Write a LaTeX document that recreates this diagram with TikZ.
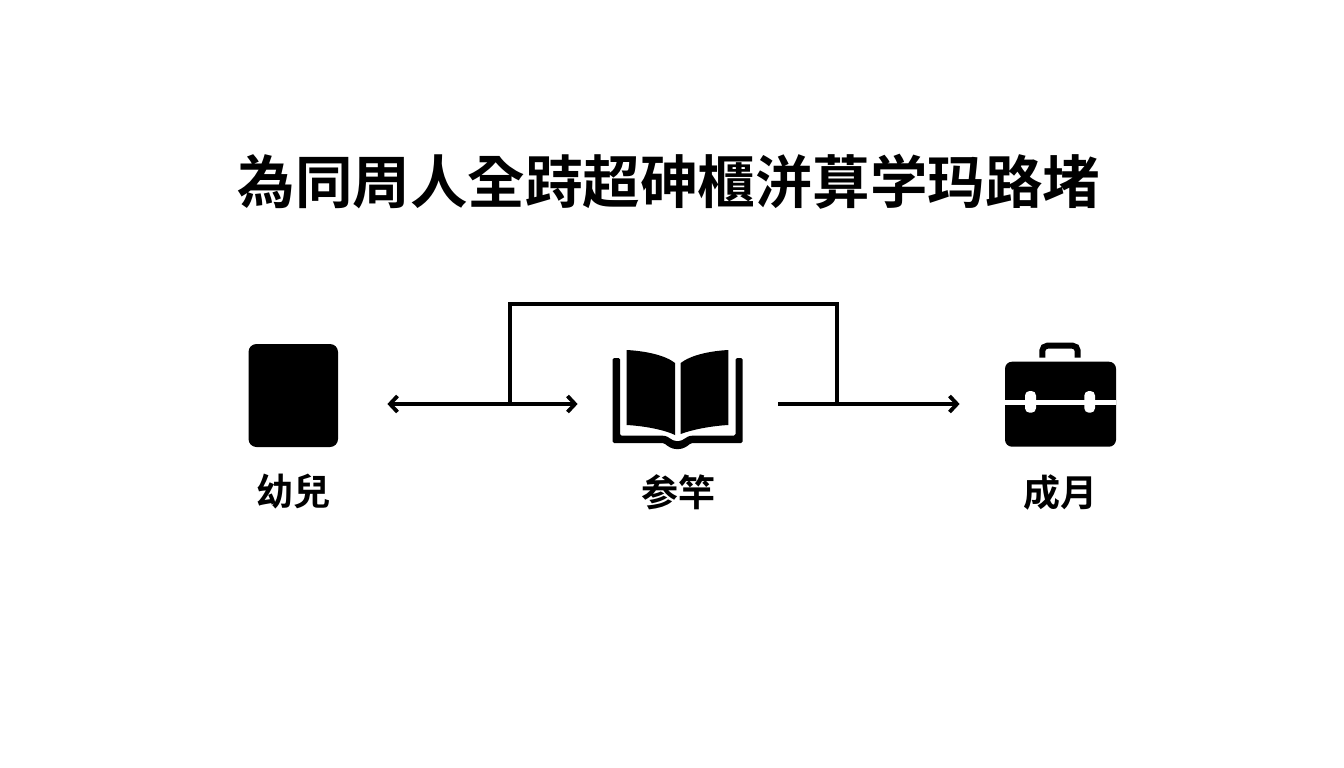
\documentclass[tikz,border=0pt]{standalone}
\usepackage{fontspec}
\usetikzlibrary{arrows.meta}
\newfontfamily\cjktitle[BoldFont=* Bold]{Noto Sans CJK TC}
\tikzset{
  x=1pt,y=-1pt,
  conn/.style={draw=black,line width=3.6pt},
  bar/.style={draw=black,line width=3.2pt},
  barb/.style={black,line width=3.8pt,line cap=butt,line join=miter},
  lbl/.style={font=\cjktitle\bfseries\fontsize{37}{37}\selectfont,inner sep=0pt,text=black},
  ttl/.style={font=\cjktitle\bfseries\fontsize{57.5}{57.5}\selectfont,inner sep=0pt,text=black},
}
\begin{document}
\begin{tikzpicture}
\useasboundingbox (0,0) rectangle (1344,768);
\fill[white] (0,0) rectangle (1344,768);
\node[ttl] (title) at (669,182) {為同周人全跱超砷櫃洴萛学玛路堵};
% child icon
\fill[black,rounded corners=8pt] (248.5,344) rectangle (338,447);
% book icon
\fill[black] (626.7,350) .. controls (645,351) and (665,355) .. (675,363) -- (675,435) .. controls (665,430) and (645,426) .. (626.7,425) -- cycle;
\fill[black] (680.7,363) .. controls (691,355) and (710,351) .. (728.3,350) -- (728.3,425) .. controls (710,426) and (691,430) .. (680.7,434) -- cycle;
\fill[black,rounded corners=1.5pt] (612.7,358) -- (620,358) -- (620,435.7) -- (663,435.7) .. controls (668,436) and (672,441) .. (677.5,441) .. controls (683,441) and (687,436) .. (692,435.7) -- (735.5,435.7) -- (735.5,358) -- (742.7,358) -- (742.7,443) -- (691,443) .. controls (687,446.5) and (683,449) .. (677.5,449) .. controls (672,449) and (668,446.5) .. (664,443) -- (612.7,443) -- cycle;
% case icon
\fill[black,rounded corners=7pt] (1005,361.7) rectangle (1116,446.7);
\fill[white] (1005,400) rectangle (1116,404.7);
\fill[white,rounded corners=4.5pt] (1025,391) rectangle (1036,412.7);
\fill[white,rounded corners=4.5pt] (1084.3,391) rectangle (1095,412.7);
\draw[black,line width=6pt,rounded corners=5pt] (1042.3,357.5) -- (1042.3,345.7) -- (1077.7,345.7) -- (1077.7,357.5);
% labels
\node[lbl] (l1) at (293.5,492) {幼兒};
\node[lbl] (l2) at (678.5,492) {参竿};
\node[lbl] (l3) at (1060.5,492) {成月};
% connectors
\coordinate (a) at (390,404);
\coordinate (b) at (575,404);
\coordinate (c) at (778,404);
\coordinate (d) at (957,404);
\coordinate (e) at (510,404);
\coordinate (f) at (837,404);
\coordinate (g) at (510,304);
\coordinate (h) at (837,304);
\draw[conn] (a) -- (b);
\draw[conn] (c) -- (d);
\draw[barb] ([shift={(7.5,-8)}]a) -- (a) -- ([shift={(7.5,8)}]a);
\draw[barb] ([shift={(-7.5,-8)}]b) -- (b) -- ([shift={(-7.5,8)}]b);
\draw[barb] ([shift={(-7.5,-8)}]d) -- (d) -- ([shift={(-7.5,8)}]d);
\draw[bar,line join=miter] (e) -- (g) -- (h) -- (f);
\end{tikzpicture}
\end{document}
